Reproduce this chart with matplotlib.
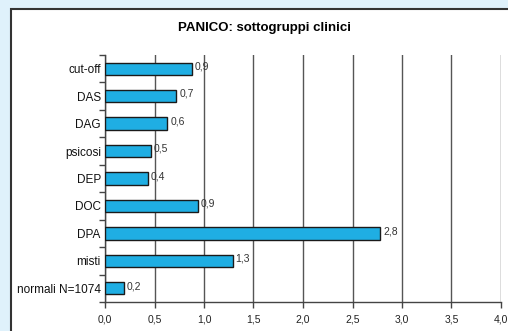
import matplotlib
matplotlib.use("Agg")
import matplotlib.pyplot as plt
from matplotlib.patches import Rectangle
import numpy as np

plt.rcParams['font.family'] = ['Liberation Sans', 'DejaVu Sans']

categories = ["cut-off", "DAS", "DAG", "psicosi", "DEP", "DOC", "DPA", "misti", "normali N=1074"]
values = [0.88, 0.72, 0.63, 0.46, 0.43, 0.94, 2.78, 1.29, 0.19]
xticks = [0.0, 0.5, 1.0, 1.5, 2.0, 2.5, 3.0, 3.5, 4.0]
title = "PANICO: sottogruppi clinici"

fig = plt.figure(figsize=(5.08, 3.31), dpi=100)
fig.patch.set_facecolor("#DFF1FB")
panel = Rectangle((11/508, -0.1), 1.0, 1 - 9/331 + 0.1, transform=fig.transFigure,
                  facecolor="white", edgecolor="#333333", linewidth=1.5, zorder=-5)
fig.patches.append(panel)

ax = fig.add_axes([105/508, 1 - 302/331, 396/508, 247/331])
ax.set_zorder(2)
ax.set_facecolor("white")
n = len(categories)
ypos = np.arange(n)
ax.barh(ypos, values, height=0.45, color="#1FAEE3", edgecolor="#1a1a1a", linewidth=1.0, zorder=3)
ax.set_ylim(n - 0.5, -0.5)
ax.set_xlim(0, 4.0)
for y, v in zip(ypos, values):
    ax.text(v + 0.03, y - 0.08, f"{v:.1f}".replace(".", ","), fontsize=7.5, va="center", ha="left", color="#333333", zorder=4)

ax.set_yticks(ypos)
ax.set_yticklabels(categories, fontsize=8.5, color="#111111")
ax.tick_params(axis="y", which="major", length=0, pad=3)
ax.set_yticks(np.arange(-0.5, n, 1.0), minor=True)
ax.tick_params(axis="y", which="minor", length=4, width=1, color="#444444", direction="out")

ax.set_xticks(xticks)
ax.set_xticklabels([f"{t:.1f}".replace(".", ",") for t in xticks], fontsize=7.5, color="#222222")
ax.tick_params(axis="x", length=4, width=1, color="#444444", pad=5)
ax.xaxis.grid(True, color="#555555", linewidth=1.0, zorder=1)
ax.set_axisbelow(True)
for s in ["top", "right"]:
    ax.spines[s].set_visible(False)
for s in ["left", "bottom"]:
    ax.spines[s].set_color("#444444")
    ax.spines[s].set_linewidth(1.0)

fig.text(265/508, 1 - 28/331, title, fontsize=9.5, fontweight="bold", ha="center", va="center", zorder=3)

fig.savefig("out.png", dpi=100, facecolor=fig.get_facecolor())
